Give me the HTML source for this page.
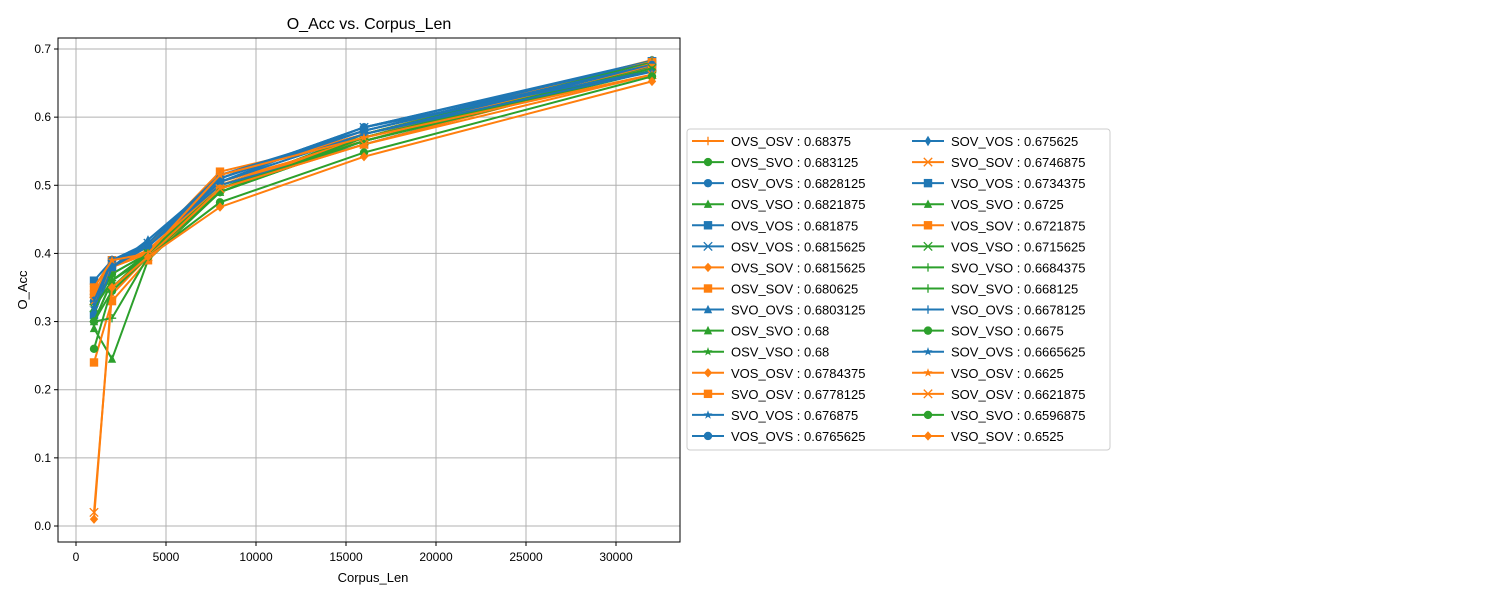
<!DOCTYPE html>
<html><head><meta charset="utf-8"><style>
body{margin:0;background:#fff;font-family:"Liberation Sans","DejaVu Sans",sans-serif}
svg{display:block}
</style></head><body>
<svg id="chart" width="1500" height="600" font-family="Liberation Sans, DejaVu Sans, sans-serif">
<rect width="1500" height="600" fill="#fff"/>
<text x="369" y="29" text-anchor="middle" font-size="16">O_Acc vs. Corpus_Len</text>
<text x="373" y="582" text-anchor="middle" font-size="13">Corpus_Len</text>
<text transform="translate(27,290) rotate(-90)" text-anchor="middle" font-size="13">O_Acc</text>
<g id="grid"></g><g id="series"></g>
<rect x="58" y="38" width="622" height="504" fill="none" stroke="#000" stroke-width="1"/>
<g id="ticks"></g>
<g id="legend"><rect x="687" y="129" width="423" height="321" rx="3" fill="#fff" stroke="#ccc"/></g>
</svg>
<script>
const xVals=[1000,2000,4000,8000,16000,32000];
const xTicks=[0,5000,10000,15000,20000,25000,30000];
const yTicks=[0,0.1,0.2,0.3,0.4,0.5,0.6,0.7];
const names=["OVS_OSV","OVS_SVO","OSV_OVS","OVS_VSO","OVS_VOS","OSV_VOS","OVS_SOV","OSV_SOV","SVO_OVS","OSV_SVO","OSV_VSO","VOS_OSV","SVO_OSV","SVO_VOS","VOS_OVS","SOV_VOS","SVO_SOV","VSO_VOS","VOS_SVO","VOS_SOV","VOS_VSO","SVO_VSO","SOV_SVO","VSO_OVS","SOV_VSO","SOV_OVS","VSO_OSV","SOV_OSV","VSO_SVO","VSO_SOV"];
const labels=["0.68375","0.683125","0.6828125","0.6821875","0.681875","0.6815625","0.6815625","0.680625","0.6803125","0.68","0.68","0.6784375","0.6778125","0.676875","0.6765625","0.675625","0.6746875","0.6734375","0.6725","0.6721875","0.6715625","0.6684375","0.668125","0.6678125","0.6675","0.6665625","0.6625","0.6621875","0.6596875","0.6525"];
const colors=["o","g","b","g","b","b","o","o","b","g","g","o","o","b","b","b","o","b","g","o","g","g","g","b","g","b","o","o","g","o"];
const markers=["+","o","o","^","s","x","D","s","^","^","*","D","s","*","o","d","x","s","^","s","x","+","+","+","o","*","*","x","o","D"];
const s1000=[0.34,0.33,0.34,0.30,0.36,0.33,0.34,0.35,0.31,0.32,0.32,0.33,0.34,0.32,0.33,0.33,0.33,0.31,0.29,0.24,0.32,0.30,0.30,0.33,0.26,0.32,0.35,0.02,0.30,0.01];
const s2000=[0.38,0.37,0.39,0.36,0.39,0.38,0.39,0.39,0.38,0.36,0.37,0.38,0.38,0.39,0.39,0.39,0.38,0.38,0.245,0.33,0.36,0.305,0.36,0.39,0.35,0.39,0.39,0.34,0.345,0.35];
const s4000=[0.41,0.40,0.415,0.40,0.41,0.415,0.40,0.41,0.42,0.395,0.40,0.40,0.405,0.415,0.41,0.41,0.40,0.41,0.39,0.39,0.40,0.395,0.40,0.415,0.40,0.41,0.40,0.395,0.395,0.395];
const s8000=[0.515,0.50,0.51,0.495,0.51,0.505,0.515,0.52,0.51,0.49,0.495,0.505,0.50,0.515,0.51,0.505,0.50,0.50,0.49,0.495,0.495,0.49,0.49,0.51,0.49,0.505,0.515,0.495,0.475,0.468];
const s16000=[0.575,0.57,0.585,0.575,0.58,0.585,0.575,0.57,0.585,0.57,0.575,0.565,0.57,0.58,0.58,0.575,0.565,0.56,0.57,0.56,0.565,0.57,0.565,0.585,0.565,0.575,0.57,0.56,0.548,0.542];
const s32000=labels.map(Number);
const series=[s1000,s2000,s4000,s8000,s16000,s32000];
const C={b:"#1f77b4",o:"#ff7f0e",g:"#2ca02c"};
const X=v=>76+v*(540/30000), Y=v=>526-v*(477/0.7);
const NS="http://www.w3.org/2000/svg";
function mk(t,a,p){const e=document.createElementNS(NS,t);for(const k in a)e.setAttribute(k,a[k]);p.appendChild(e);return e;}
const grid=document.getElementById('grid'),ticks=document.getElementById('ticks'),sg=document.getElementById('series'),lg=document.getElementById('legend');
xTicks.forEach(t=>{const x=X(t);
 const l=mk('line',{x1:x,x2:x,y1:38,y2:542,stroke:'#b0b0b0','stroke-width':1},grid);
 
 
 mk('line',{x1:x,x2:x,y1:542,y2:546,stroke:'#000'},ticks);
 const tx=mk('text',{x:x,y:561,'text-anchor':'middle','font-size':12},ticks);tx.textContent=t;
 
 });
yTicks.forEach(t=>{const y=Y(t);
 const l=mk('line',{x1:58,x2:680,y1:y,y2:y,stroke:'#b0b0b0','stroke-width':1},grid);
 
 
 mk('line',{x1:54,x2:58,y1:y,y2:y,stroke:'#000'},ticks);
 const tx=mk('text',{x:51,y:y+4,'text-anchor':'end','font-size':12},ticks);tx.textContent=t.toFixed(1);
 
 });
function marker(m,x,y,c,p){
 const r=4.2;
 if(m==='o')return mk('circle',{cx:x,cy:y,r:r,fill:c},p);
 if(m==='s')return mk('rect',{x:x-r,y:y-r,width:2*r,height:2*r,fill:c},p);
 if(m==='^')return mk('polygon',{points:`${x},${y-r-0.5} ${x-r},${y+r-0.5} ${x+r},${y+r-0.5}`,fill:c},p);
 if(m==='D')return mk('polygon',{points:`${x},${y-r-0.5} ${x+r},${y} ${x},${y+r+0.5} ${x-r},${y}`,fill:c},p);
 if(m==='d')return mk('polygon',{points:`${x},${y-r-1} ${x+r-1},${y} ${x},${y+r+1} ${x-r+1},${y}`,fill:c},p);
 if(m==='+')return mk('path',{d:`M${x-r} ${y}H${x+r}M${x} ${y-r}V${y+r}`,stroke:c,'stroke-width':1.3},p);
 if(m==='x')return mk('path',{d:`M${x-r} ${y-r}L${x+r} ${y+r}M${x-r} ${y+r}L${x+r} ${y-r}`,stroke:c,'stroke-width':1.3},p);
 if(m==='*'){let pts=[];for(let i=0;i<10;i++){const a=Math.PI*i/5-Math.PI/2,rr=i%2?r*0.45:r+0.5;pts.push((x+rr*Math.cos(a)).toFixed(1)+','+(y+rr*Math.sin(a)).toFixed(1));}return mk('polygon',{points:pts.join(' '),fill:c},p);}
}
names.forEach((n,i)=>{const c=C[colors[i]];
 const g=mk('g',{},sg);
 
 
 const pts=xVals.map((xv,j)=>X(xv)+','+Y(series[j][i])).join(' ');
 mk('polyline',{points:pts,fill:'none',stroke:c,'stroke-width':2},g);
 xVals.forEach((xv,j)=>marker(markers[i],X(xv),Y(series[j][i]),c,g));
 const col=i<15?0:1,row=i%15;
 const lx=692+col*220,ly=141+row*21.07;
 const le=mk('g',{},lg);
 
 
 mk('line',{x1:lx,x2:lx+32,y1:ly,y2:ly,stroke:c,'stroke-width':2},le);
 marker(markers[i],lx+16,ly,c,le);
 const t=mk('text',{x:lx+39,y:ly+5,'font-size':13},le);t.textContent=n+' : '+labels[i];
});
</script>
</body></html>
